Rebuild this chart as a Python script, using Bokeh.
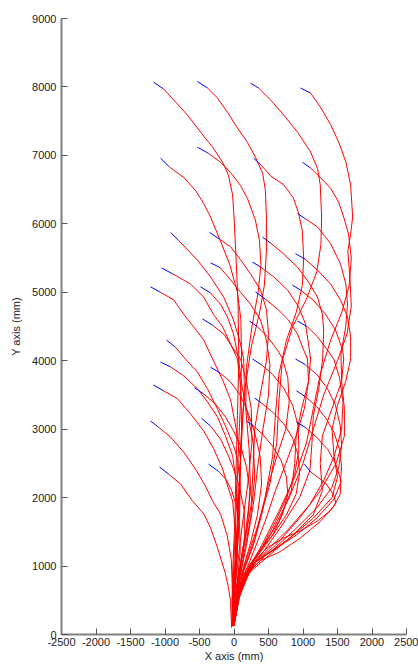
from bokeh.plotting import figure
from bokeh.models import Range1d, FixedTicker
from bokeh.embed import file_html
from bokeh.resources import INLINE

# Tick values / labels
x_ticks = [-2500, -2000, -1500, -1000, -500, 0, 500, 1000, 1500, 2000, 2500]
y_ticks = [0, 1000, 2000, 3000, 4000, 5000, 6000, 7000, 8000, 9000]

# Trajectories (mm): first segment is the initial heading (blue), the rest the path (red)
t01 = [(-1167,8070),(-1020,7970),(-875,7810),(-675,7590),(-485,7340),(-310,7120),(-165,6900),(-80,6710),(-20,6420),(0,6100),(30,5500),(60,4800),(70,4000),(50,3200),(30,2400),(10,1600),(-20,900),(-30,400),(-30,130)]
t02 = [(-530,8080),(-385,7985),(-240,7840),(-95,7630),(50,7400),(195,7190),(310,6975),(415,6740),(455,6490),(470,6100),(470,5600),(440,5100),(370,4700),(250,4200),(160,3600),(110,3000),(90,2400),(60,1800),(30,1100),(0,500),(-20,120)]
t03 = [(240,8055),(355,7985),(530,7810),(720,7590),(920,7340),(1110,7050),(1210,6810),(1250,6570),(1270,6100),(1260,5700),(1200,5300),(1050,4900),(850,4500),(700,4000),(650,3400),(620,2800),(520,2200),(350,1600),(180,1100),(50,600),(-10,130)]
t04 = [(965,7985),(1110,7910),(1250,7710),(1400,7450),(1515,7200),(1620,6910),(1690,6570),(1720,6100),(1690,5850),(1650,5600),(1680,5200),(1700,4800),(1640,4400),(1500,4000),(1300,3500),(1150,3000),(1000,2500),(800,2000),(550,1500),(300,1100),(100,700),(0,130)]
t05 = [(-1065,6960),(-935,6830),(-730,6680),(-560,6490),(-440,6300),(-340,6100),(-200,5760),(-60,5400),(50,5000),(100,4600),(110,4000),(90,3300),(60,2600),(30,1800),(0,1100),(-20,500),(-20,120)]
t06 = [(-530,7120),(-370,7030),(-195,6900),(-50,6750),(95,6560),(195,6370),(310,6055),(370,5750),(390,5400),(350,5000),(260,4500),(180,3900),(170,3300),(220,2700),(240,2100),(170,1500),(70,900),(0,400),(-20,130)]
t07 = [(283,6960),(400,6850),(530,6700),(720,6570),(860,6380),(935,6160),(990,5900),(1010,5500),(990,5100),(900,4700),(760,4300),(650,3800),(600,3200),(560,2600),(450,2000),(300,1400),(130,900),(20,400),(-10,130)]
t08 = [(993,6900),(1110,6815),(1250,6680),(1400,6520),(1515,6320),(1590,6100),(1660,5850),(1700,5500),(1670,5100),(1560,4700),(1400,4300),(1250,3800),(1150,3300),(1050,2800),(880,2300),(650,1800),(400,1300),(180,900),(40,500),(0,130)]
t09 = [(-920,5875),(-805,5760),(-530,5470),(-340,5225),(-150,4930),(-7,4595),(95,4245),(140,4025),(150,3600),(120,3000),(80,2300),(40,1500),(0,800),(-20,140)]
t10 = [(-355,5875),(-215,5780),(-50,5665),(95,5475),(240,5270),(385,5030),(470,4750),(500,4400),(470,4000),(380,3500),(300,3000),(280,2500),(250,1900),(150,1300),(40,700),(-10,130)]
t11 = [(413,5805),(530,5720),(720,5560),(920,5365),(1080,5150),(1210,4930),(1280,4680),(1300,4450),(1285,4025),(1230,3600),(1150,3200),(1130,2800),(1100,2400),(950,2000),(700,1600),(420,1200),(180,900),(40,500),(-10,130)]
t12 = [(891,5565),(1035,5480),(1210,5325),(1400,5120),(1545,4885),(1645,4640),(1690,4350),(1690,4025),(1620,3700),(1500,3350),(1420,3000),(1450,2600),(1500,2300),(1420,2000),(1150,1700),(800,1400),(450,1150),(200,900),(50,500),(0,130)]
t13 = [(-1050,5355),(-890,5270),(-630,5120),(-440,4930),(-300,4680),(-165,4495),(-50,4245),(50,4025),(100,3600),(110,3000),(80,2200),(40,1400),(0,700),(-10,150)]
t14 = [(-340,5430),(-200,5360),(-50,5180),(95,5000),(240,4825),(385,4595),(470,4300),(520,3950),(500,3500),(420,3000),(350,2500),(280,1900),(180,1300),(60,700),(-10,140)]
t15 = [(268,5440),(385,5370),(575,5225),(775,5035),(935,4790),(1035,4540),(1080,4245),(1110,4025),(1080,3700),(980,3300),(900,2900),(880,2500),(830,2100),(650,1650),(400,1250),(180,950),(40,500),(-10,130)]
t16 = [(-1210,5080),(-1065,5000),(-875,4890),(-730,4680),(-585,4495),(-440,4305),(-310,4025),(-165,3720),(-50,3430),(35,2990),(95,2550),(80,2000),(50,1400),(10,800),(-20,150)]
t17 = [(-486,5080),(-340,4990),(-195,4825),(-95,4640),(-7,4390),(65,4025),(120,3600),(200,3200),(280,2800),(300,2300),(240,1700),(130,1100),(30,600),(-10,140)]
t18 = [(312,5005),(455,4900),(630,4755),(790,4595),(920,4390),(1010,4155),(1065,4025),(1080,3700),(1020,3300),(900,2900),(750,2500),(600,2100),(450,1650),(280,1200),(120,800),(20,400),(-10,130)]
t19 = [(847,5105),(965,5030),(1150,4885),(1325,4680),(1470,4450),(1575,4155),(1590,4025),(1560,3700),(1420,3300),(1280,2900),(1250,2500),(1280,2100),(1150,1750),(850,1450),(500,1150),(220,900),(60,500),(0,130)]
t20 = [(-456,4610),(-310,4520),(-140,4380),(0,4160),(95,4025),(180,3700),(250,3300),(260,2800),(200,2200),(120,1600),(50,1000),(0,500),(-20,130)]
t21 = [(225,4580),(340,4495),(485,4350),(630,4155),(705,4025),(780,3750),(800,3400),(750,3000),(620,2600),(500,2200),(400,1750),(280,1300),(130,900),(30,450),(-10,130)]
t22 = [(920,4580),(1065,4495),(1210,4350),(1355,4155),(1445,4025),(1530,3750),(1580,3400),(1560,3000),(1450,2600),(1300,2250),(1100,1900),(800,1550),(500,1250),(250,1000),(80,600),(0,130)]
t23 = [(-978,4300),(-850,4200),(-705,4025),(-530,3835),(-385,3590),(-240,3295),(-125,3050),(-7,2760),(50,2570),(90,2200),(80,1700),(40,1100),(0,600),(-20,150)]
t24 = [(-1065,3980),(-920,3910),(-730,3780),(-530,3590),(-385,3400),(-240,3180),(-125,2905),(-20,2615),(20,2320),(50,1950),(60,1500),(40,1000),(0,500),(-10,150)]
t25 = [(-340,3905),(-200,3820),(-50,3690),(95,3490),(200,3250),(300,2950),(380,2600),(400,2200),(340,1750),(230,1300),(100,850),(10,450),(-20,130)]
t26 = [(268,4025),(400,3940),(560,3800),(720,3600),(850,3350),(930,3050),(940,2700),(880,2350),(760,2000),(600,1650),(420,1300),(230,1000),(80,600),(0,130)]
t27 = [(891,4025),(1030,3945),(1200,3800),(1350,3600),(1470,3350),(1540,3050),(1560,2750),(1520,2450),(1420,2150),(1200,1850),(900,1550),(580,1250),(300,1050),(100,650),(0,130)]
t28 = [(-1167,3645),(-1020,3560),(-820,3445),(-630,3225),(-440,2975),(-295,2715),(-165,2420),(-80,2130),(-20,1950),(20,1500),(20,1000),(-10,500),(-20,150)]
t29 = [(-572,3605),(-440,3515),(-270,3370),(-125,3180),(-7,2975),(95,2760),(180,2450),(230,2100),(200,1650),(120,1200),(40,700),(-10,150)]
t30 = [(297,3455),(400,3380),(560,3250),(720,3080),(850,2870),(930,2620),(950,2350),(900,2050),(760,1750),(560,1450),(350,1200),(150,900),(40,500),(-10,130)]
t31 = [(905,3560),(1040,3470),(1200,3330),(1340,3150),(1450,2950),(1530,2700),(1560,2450),(1540,2200),(1450,1980),(1200,1700),(900,1450),(600,1250),(330,1070),(120,750),(10,300),(-10,130)]
t32 = [(-1210,3120),(-1095,3030),(-920,2885),(-730,2665),(-560,2420),(-415,2170),(-310,1950),(-195,1760),(-100,1450),(-40,1100),(-20,600),(-20,150)]
t33 = [(-471,3160),(-340,3045),(-195,2855),(-80,2610),(-7,2420),(80,2150),(150,1800),(150,1400),(90,950),(20,500),(-10,140)]
t34 = [(181,3120),(290,3040),(420,2920),(560,2750),(680,2550),(760,2300),(780,2050),(700,1750),(560,1450),(380,1200),(200,950),(60,550),(0,130)]
t35 = [(905,3105),(1040,3020),(1200,2880),(1360,2700),(1480,2480),(1550,2250),(1540,2050),(1450,1880),(1250,1650),(950,1400),(650,1200),(380,1080),(160,850),(30,400),(-10,130)]
t36 = [(-1080,2450),(-950,2345),(-775,2200),(-600,1950),(-440,1765),(-340,1560),(-240,1270),(-125,890),(-80,685),(-50,495),(-35,100)]
t37 = [(-369,2490),(-220,2380),(-120,2270),(-40,2120),(30,1900),(80,1600),(90,1200),(50,800),(0,400),(-20,130)]
t38 = [(1021,2490),(1110,2375),(1325,2215),(1445,2040),(1475,1925),(1400,1810),(1210,1660),(965,1515),(720,1410),(485,1270),(340,1120),(200,900),(50,500),(-10,150)]
t39 = [(920,6150),(1040,6070),(1210,5955),(1400,5710),(1545,5410),(1620,5125),(1645,4830),(1620,4500),(1550,4100),(1560,3700),(1600,3300),(1600,2900),(1480,2500),(1250,2100),(950,1700),(600,1300),(300,1050),(100,700),(0,130)]

trajectories = [t01, t02, t03, t04, t05, t06, t07, t08, t09, t10, t11, t12, t13,
                t14, t15, t16, t17, t18, t19, t20, t21, t22, t23, t24, t25, t26,
                t27, t28, t29, t30, t31, t32, t33, t34, t35, t36, t37, t38, t39]

FONT = "Liberation Sans"

p = figure(width=418, height=664,
           min_border_left=61, min_border_right=12, min_border_top=18, min_border_bottom=30,
           x_range=Range1d(-2500, 2500), y_range=Range1d(0, 9000),
           output_backend="svg", toolbar_location=None, tools="")
p.outline_line_color = None
p.grid.visible = False
p.background_fill_color = "white"
p.border_fill_color = "white"

red_xs = [[pt[0] for pt in t[1:]] for t in trajectories]
red_ys = [[pt[1] for pt in t[1:]] for t in trajectories]
blue_xs = [[pt[0] for pt in t[:2]] for t in trajectories]
blue_ys = [[pt[1] for pt in t[:2]] for t in trajectories]

p.multi_line(red_xs, red_ys, line_color="#ff0000", line_width=1)
p.multi_line(blue_xs, blue_ys, line_color="#0000ff", line_width=1)

p.xaxis.ticker = FixedTicker(ticks=x_ticks)
p.yaxis.ticker = FixedTicker(ticks=y_ticks)
p.xaxis.major_label_overrides = {v: str(v) for v in x_ticks}
p.yaxis.major_label_overrides = {v: str(v) for v in y_ticks}
p.xaxis.axis_label = "X axis (mm)"
p.yaxis.axis_label = "Y axis (mm)"

for ax in (p.xaxis[0], p.yaxis[0]):
    ax.axis_line_color = "#808080"
    ax.axis_line_width = 2
    ax.major_tick_line_color = "#555555"
    ax.major_tick_in = 6
    ax.major_tick_out = 0
    ax.minor_tick_in = 0
    ax.minor_tick_out = 0
    ax.major_label_text_font = FONT
    ax.major_label_text_font_size = "11px"
    ax.major_label_text_color = "#222222"
    ax.axis_label_text_font = FONT
    ax.axis_label_text_font_size = "11px"
    ax.axis_label_text_font_style = "normal"
    ax.axis_label_text_color = "#222222"

p.xaxis.major_label_standoff = 3
p.xaxis.axis_label_standoff = 1
p.yaxis.major_label_standoff = 5
p.yaxis.axis_label_standoff = 7

open("out.html", "w").write(file_html(p, INLINE))
